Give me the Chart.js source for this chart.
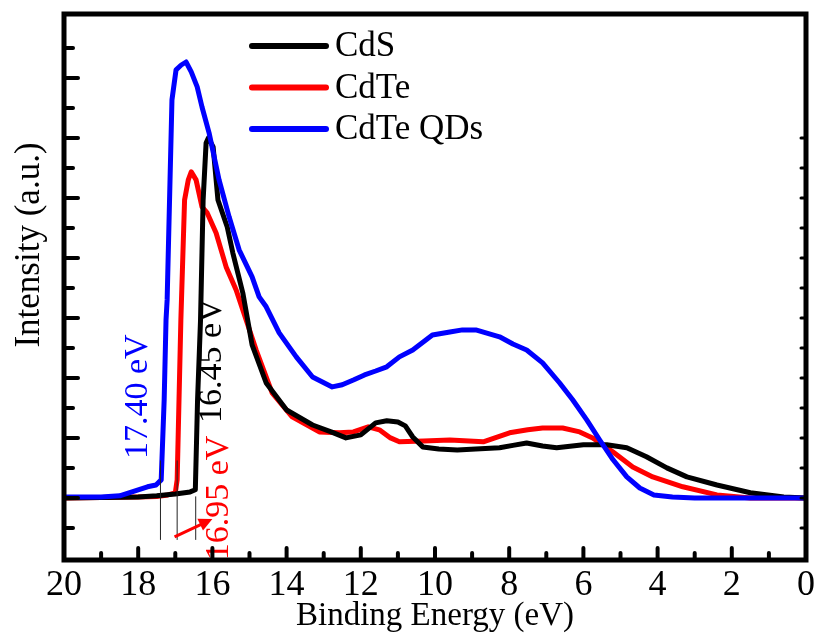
<!DOCTYPE html>
<html>
<head>
<meta charset="utf-8">
<script src="https://cdn.jsdelivr.net/npm/chart.js@4.4.1/dist/chart.umd.min.js"></script>
<style>
  html, body { margin: 0; padding: 0; background: #fff; }
</style>
</head>
<body>
<canvas id="ups" width="821" height="639"></canvas>
<script>
const SERIF = '"Liberation Serif", "Times New Roman", serif';

// binding energy (eV) / intensity (a.u.)
const cdsE  = [20, 18, 17.5, 17.0, 16.6, 16.46, 16.4, 16.32, 16.25, 16.17, 16.11, 15.98, 15.85, 15.6, 15.45, 15.18, 14.93, 14.55, 14.0, 13.3,
               12.8, 12.4, 12.0, 11.8, 11.6, 11.3, 11.0, 10.8, 10.6, 10.33, 9.9, 9.4, 8.9, 8.26, 7.9, 7.53, 7.1, 6.72, 6.3, 6.0,
               5.37, 4.83, 4.3, 3.75, 3.21, 2.4, 1.5, 0.6, 0];
const cdsI  = [0, 0.03, 0.07, 0.13, 0.2, 0.27, 3.27, 5.93, 9.93, 11.83, 12.0, 11.7, 9.93, 9.03, 8.17, 6.83, 5.1, 3.83, 2.93, 2.43,
               2.2, 2.0, 2.1, 2.3, 2.5, 2.57, 2.53, 2.4, 2.03, 1.7, 1.63, 1.6, 1.63, 1.67, 1.75, 1.83, 1.73, 1.67, 1.73, 1.77,
               1.77, 1.67, 1.37, 1.0, 0.7, 0.43, 0.17, 0.03, 0];

const cdteE = [20, 18, 17.5, 17.2, 17.0, 16.95, 16.9, 16.85, 16.75, 16.65, 16.57, 16.44, 16.28, 16.14, 15.9, 15.63, 15.36, 15.09, 14.82, 14.39,
               13.85, 13.12, 12.58, 12.2, 11.8, 11.5, 11.2, 10.96, 10.3, 9.6, 8.7, 7.99, 7.5, 7.1, 6.56, 6.1, 5.75, 5.2, 4.67, 4.13,
               3.32, 2.4, 1.5, 0];
const cdteI = [0, 0.03, 0.05, 0.1, 0.17, 0.6, 3.27, 5.93, 9.93, 10.6, 10.87, 10.6, 9.7, 9.5, 8.83, 7.7, 6.93, 5.93, 4.93, 3.5,
               2.7, 2.2, 2.17, 2.2, 2.37, 2.27, 2.0, 1.87, 1.9, 1.93, 1.87, 2.17, 2.27, 2.33, 2.33, 2.2, 2.0, 1.53, 1.03, 0.7,
               0.37, 0.1, 0, 0];

const qdE   = [20, 19, 18.5, 18.25, 18.0, 17.75, 17.52, 17.38, 17.3, 17.25, 17.22, 17.09, 16.98, 16.84, 16.71, 16.57, 16.41, 16.28, 16.09, 15.82,
               15.55, 15.28, 14.93, 14.74, 14.55, 14.2, 13.74, 13.3, 12.77, 12.5, 12.2, 11.9, 11.6, 11.3, 10.96, 10.6, 10.07, 9.6, 9.26, 8.9,
               8.26, 7.9, 7.53, 7.1, 6.64, 6.29, 5.91, 5.56, 5.2, 4.83, 4.48, 4.1, 3.6, 3.0, 0];
const qdI   = [0.03, 0.03, 0.07, 0.17, 0.27, 0.37, 0.43, 0.6, 3.27, 5.93, 6.6, 13.27, 14.27, 14.43, 14.53, 14.2, 13.7, 13.03, 12.17, 10.6,
               9.37, 8.27, 7.37, 6.7, 6.37, 5.5, 4.7, 4.03, 3.7, 3.77, 3.93, 4.1, 4.23, 4.37, 4.7, 4.93, 5.43, 5.53, 5.6, 5.6,
               5.37, 5.13, 4.93, 4.5, 3.83, 3.27, 2.6, 1.93, 1.27, 0.7, 0.33, 0.1, 0.03, 0, 0];

const seriesNames  = ['CdS', 'CdTe', 'CdTe QDs'];
const seriesColors = ['#000000', '#ff0000', '#0000ff'];

// onset (cut-off) annotations
const onsetE      = [17.40, 16.95, 16.45];
const onsetLabels = ['17.40 eV', '16.95 eV', '16.45 eV'];
const onsetColors = ['#0000ff', '#ff0000', '#000000'];
const labelE      = [18.0, 15.82, 16.0];
const labelI      = [3.37, 0.0, 4.57];

const toPts = (xs, ys) => xs.map((v, i) => ({ x: v, y: ys[i] }));

function seg(ctx, x1, y1, x2, y2) {
  ctx.beginPath();
  ctx.moveTo(x1, y1);
  ctx.lineTo(x2, y2);
  ctx.stroke();
}

const decor = {
  id: 'decor',
  afterDatasetsDraw(chart) {
    const { ctx, chartArea: a, scales: { x, y } } = chart;
    ctx.save();

    // tangent lines + arrow
    ctx.strokeStyle = '#222';
    ctx.lineWidth = 1;
    const tops = [1.25, 1.25, 0.05];
    onsetE.forEach((e, i) => {
      const px = x.getPixelForValue(e);
      seg(ctx, px, y.getPixelForValue(tops[i]), px, y.getPixelForValue(-1.4));
    });
    ctx.strokeStyle = '#ff0000';
    ctx.fillStyle = '#ff0000';
    ctx.lineWidth = 3;
    const ax1 = x.getPixelForValue(17.02), ay1 = y.getPixelForValue(-1.3);
    const ax2 = x.getPixelForValue(16.0),  ay2 = y.getPixelForValue(-0.7);
    seg(ctx, ax1, ay1, ax2 - 8, ay2 + 4);
    const ang = Math.atan2(ay2 - ay1, ax2 - ax1);
    ctx.beginPath();
    ctx.moveTo(ax2, ay2);
    ctx.lineTo(ax2 - 15 * Math.cos(ang - 0.45), ay2 - 15 * Math.sin(ang - 0.45));
    ctx.lineTo(ax2 - 15 * Math.cos(ang + 0.45), ay2 - 15 * Math.sin(ang + 0.45));
    ctx.closePath();
    ctx.fill();

    // rotated onset labels
    ctx.font = '34px ' + SERIF;
    ctx.textAlign = 'center';
    ctx.textBaseline = 'middle';
    onsetLabels.forEach((t, i) => {
      ctx.save();
      ctx.translate(x.getPixelForValue(labelE[i]), y.getPixelForValue(labelI[i]));
      ctx.rotate(-Math.PI / 2);
      ctx.fillStyle = onsetColors[i];
      ctx.fillText(t, 0, 0);
      ctx.restore();
    });

    // inward ticks
    ctx.strokeStyle = '#000';
    ctx.lineCap = 'round';
    ctx.lineWidth = 4;
    for (let v = 1; v < 20; v++) {
      const px = x.getPixelForValue(v);
      seg(ctx, px, a.bottom, px, a.bottom - (v % 2 ? 7 : 12));
    }
    for (let v = -1; v <= 15; v++) {
      const py = y.getPixelForValue(v);
      seg(ctx, a.left, py, a.left + (v % 2 ? 9 : 14), py);
    }
    ctx.lineWidth = 3;
    for (let v = -1; v <= 12; v++) {
      const py = y.getPixelForValue(v);
      seg(ctx, a.right, py, a.right - 5, py);
    }

    // frame
    ctx.lineCap = 'butt';
    ctx.lineWidth = 5;
    ctx.strokeRect(a.left, a.top, a.right - a.left, a.bottom - a.top);

    // legend
    ctx.lineCap = 'round';
    ctx.lineWidth = 6;
    ctx.font = '35px ' + SERIF;
    ctx.textAlign = 'left';
    ctx.textBaseline = 'middle';
    seriesNames.forEach((n, i) => {
      const ly = 46 + i * 41.5;
      ctx.strokeStyle = seriesColors[i];
      seg(ctx, 252, ly, 326, ly);
      ctx.fillStyle = '#000';
      ctx.fillText(n, 335, ly + 1);
    });

    // y title
    ctx.save();
    ctx.translate(30, 245);
    ctx.rotate(-Math.PI / 2);
    ctx.textAlign = 'center';
    ctx.fillStyle = '#000';
    ctx.font = '35px ' + SERIF;
    ctx.fillText('Intensity (a.u.)', 0, 0);
    ctx.restore();

    ctx.restore();
  }
};

const lineStyle = { showLine: true, pointRadius: 0, borderWidth: 5, tension: 0,
                    borderJoinStyle: 'round', borderCapStyle: 'round', fill: false };

new Chart(document.getElementById('ups'), {
  type: 'scatter',
  data: {
    datasets: [
      { label: seriesNames[0], data: toPts(cdsE, cdsI),   borderColor: seriesColors[0], order: 2, ...lineStyle },
      { label: seriesNames[1], data: toPts(cdteE, cdteI), borderColor: seriesColors[1], order: 3, ...lineStyle },
      { label: seriesNames[2], data: toPts(qdE, qdI),     borderColor: seriesColors[2], order: 1, ...lineStyle },
    ],
  },
  options: {
    responsive: false,
    animation: false,
    layout: { padding: { left: 64, right: 15, top: 14, bottom: 0 } },
    plugins: { legend: { display: false }, tooltip: { enabled: false } },
    scales: {
      x: {
        type: 'linear', min: 0, max: 20, reverse: true,
        grid: { display: false }, border: { display: false },
        ticks: { stepSize: 2, color: '#000', padding: -4, maxRotation: 0, autoSkip: false,
                 font: { family: SERIF, size: 36 } },
        title: { display: true, text: 'Binding Energy (eV)', color: '#000',
                 font: { family: SERIF, size: 33 }, padding: { top: 0, bottom: 3 } },
        afterFit(s) { s.height = 79; },
      },
      y: { type: 'linear', min: -2.07, max: 16.13, display: false },
    },
  },
  plugins: [decor],
});
</script>
</body>
</html>
